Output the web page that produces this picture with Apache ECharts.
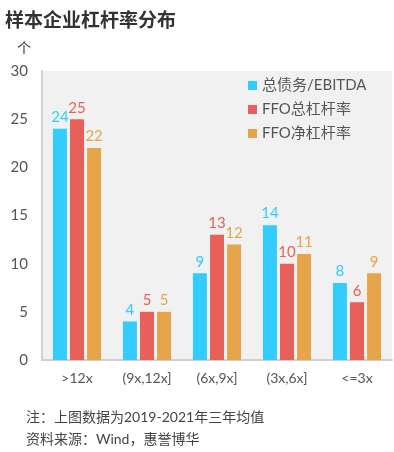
<!DOCTYPE html>
<html><head><meta charset="utf-8">
<script src="https://cdn.jsdelivr.net/npm/echarts@6/dist/echarts.min.js"></script>
<style>html,body{margin:0;padding:0;background:#fff;}#c{width:394px;height:452px;}</style>
</head><body><div id="c"></div>
<script>
const categories = ['>12x', '(9x,12x]', '(6x,9x]', '(3x,6x]', '<=3x'];
const seriesNames = ['总债务/EBITDA', 'FFO总杠杆率', 'FFO净杠杆率'];
const debtEbitda = [24, 4, 9, 14, 8];
const ffoTotal = [25, 5, 13, 10, 6];
const ffoNet = [22, 5, 12, 11, 9];
const yTicks = [0, 5, 10, 15, 20, 25, 30];
const colors = ['#33ccff', '#e8605a', '#e6a54a'];
const font = 'Lato, "Noto Sans CJK SC", sans-serif';

const chart = echarts.init(document.getElementById('c'), null, {renderer: 'canvas'});
const data = [debtEbitda, ffoTotal, ffoNet];
chart.setOption({
  animation: false,
  textStyle: {fontFamily: font},
  title: [
    {text: '样本企业杠杆率分布', left: 0, top: 5, textStyle: {fontFamily: '"Noto Sans CJK SC", sans-serif', fontSize: 19, fontWeight: 'bold', color: '#333'}},
    {text: '个', left: 12, top: 36, textStyle: {fontFamily: '"Noto Sans CJK SC", sans-serif', fontSize: 14, fontWeight: 'normal', color: '#333'}},
    {text: '注：上图数据为2019-2021年三年均值\n资料来源：Wind，惠誉博华', left: 21, top: 401, textStyle: {fontFamily: font, fontSize: 14, fontWeight: 'normal', color: '#444', lineHeight: 22}}
  ],
  legend: {
    orient: 'vertical', left: 243, top: 73, itemWidth: 9, itemHeight: 9, itemGap: 9,
    icon: 'rect', textStyle: {fontSize: 15, color: '#555', fontFamily: font},
    data: seriesNames
  },
  grid: {left: 42, right: 2, top: 71, bottom: 92, show: true, backgroundColor: '#f1f1f1', borderWidth: 0},
  xAxis: {
    type: 'category', data: categories,
    axisLine: {show: true, lineStyle: {color: '#d0d0d0', width: 2}},
    axisTick: {show: false},
    axisLabel: {color: '#555', fontSize: 14, margin: 11, fontFamily: font}
  },
  yAxis: {
    type: 'value', min: yTicks[0], max: yTicks[yTicks.length - 1], interval: 5,
    axisLine: {show: true, lineStyle: {color: '#d0d0d0', width: 2}},
    axisTick: {show: false},
    splitLine: {show: false},
    axisLabel: {color: '#555', fontSize: 15, margin: 14, fontFamily: font}
  },
  series: seriesNames.map((n, i) => ({
    name: n, type: 'bar', data: data[i], barWidth: 14, barGap: '22%',
    itemStyle: {color: colors[i]},
    label: {show: true, position: 'top', color: colors[i], fontSize: 15, distance: 4, fontFamily: font}
  }))
});
</script></body></html>
